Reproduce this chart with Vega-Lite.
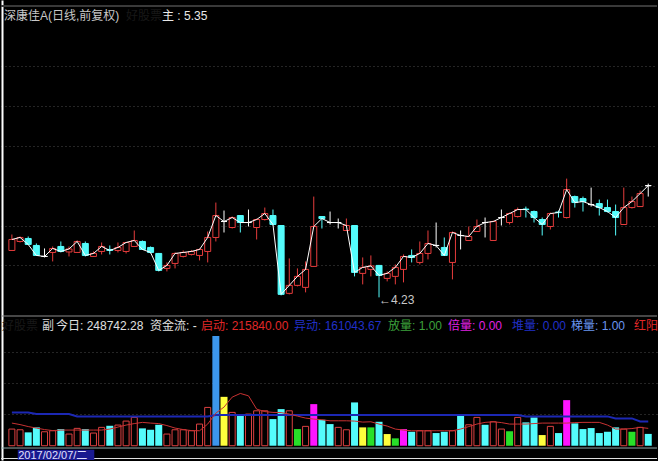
{
  "$schema": "https://vega.github.io/schema/vega-lite/v6.json",
  "width": 658,
  "height": 461,
  "autosize": {"type": "fit", "contains": "padding"},
  "padding": 0,
  "background": "#000000",
  "config": {"view": {"stroke": null}},
  "datasets": {
    "k": [
      {"i":0,"o":4.70,"h":4.86,"l":4.70,"c":4.81,"v":350700,"vt":"阳","ma5":476700,"ma60":701400},
      {"i":1,"o":4.79,"h":4.84,"l":4.78,"c":4.83,"v":336000,"vt":"阳","ma5":445200,"ma60":701400},
      {"i":2,"o":4.82,"h":4.84,"l":4.755,"c":4.76,"v":281400,"vt":"阴","ma5":403200,"ma60":701400},
      {"i":3,"o":4.75,"h":4.77,"l":4.645,"c":4.65,"v":386400,"vt":"阴","ma5":371700,"ma60":665700},
      {"i":4,"o":4.64,"h":4.72,"l":4.63,"c":4.64,"v":294000,"vt":"阳","ma5":340200,"ma60":665700},
      {"i":5,"o":4.68,"h":4.74,"l":4.59,"c":4.72,"v":315000,"vt":"阳","ma5":319200,"ma60":665700},
      {"i":6,"o":4.74,"h":4.79,"l":4.68,"c":4.69,"v":350700,"vt":"阴","ma5":329700,"ma60":665700},
      {"i":7,"o":4.685,"h":4.74,"l":4.64,"c":4.715,"v":245700,"vt":"阳","ma5":329700,"ma60":665700},
      {"i":8,"o":4.68,"h":4.80,"l":4.68,"c":4.79,"v":365400,"vt":"阳","ma5":329700,"ma60":617400},
      {"i":9,"o":4.77,"h":4.79,"l":4.64,"c":4.65,"v":350700,"vt":"阴","ma5":329700,"ma60":617400},
      {"i":10,"o":4.64,"h":4.69,"l":4.635,"c":4.67,"v":266700,"vt":"阳","ma5":329700,"ma60":617400},
      {"i":11,"o":4.69,"h":4.78,"l":4.66,"c":4.74,"v":386400,"vt":"阳","ma5":329700,"ma60":617400},
      {"i":12,"o":4.71,"h":4.75,"l":4.66,"c":4.70,"v":420000,"vt":"阴","ma5":350700,"ma60":617400},
      {"i":13,"o":4.70,"h":4.78,"l":4.68,"c":4.73,"v":434700,"vt":"阳","ma5":392700,"ma60":617400},
      {"i":14,"o":4.69,"h":4.78,"l":4.67,"c":4.78,"v":518700,"vt":"阳","ma5":434700,"ma60":617400},
      {"i":15,"o":4.74,"h":4.90,"l":4.74,"c":4.80,"v":596400,"vt":"阳","ma5":466200,"ma60":617400},
      {"i":16,"o":4.79,"h":4.80,"l":4.705,"c":4.71,"v":365400,"vt":"阴","ma5":491400,"ma60":617400},
      {"i":17,"o":4.73,"h":4.74,"l":4.67,"c":4.68,"v":336000,"vt":"阴","ma5":476700,"ma60":617400},
      {"i":18,"o":4.67,"h":4.675,"l":4.49,"c":4.50,"v":441000,"vt":"阴","ma5":466200,"ma60":617400},
      {"i":19,"o":4.52,"h":4.58,"l":4.49,"c":4.55,"v":245700,"vt":"阳","ma5":424200,"ma60":617400},
      {"i":20,"o":4.57,"h":4.68,"l":4.52,"c":4.67,"v":336000,"vt":"阳","ma5":371700,"ma60":617400},
      {"i":21,"o":4.64,"h":4.70,"l":4.63,"c":4.68,"v":336000,"vt":"阳","ma5":340200,"ma60":617400},
      {"i":22,"o":4.66,"h":4.705,"l":4.65,"c":4.69,"v":315000,"vt":"阳","ma5":319200,"ma60":617400},
      {"i":23,"o":4.65,"h":4.72,"l":4.60,"c":4.71,"v":455700,"vt":"阳","ma5":315000,"ma60":617400},
      {"i":24,"o":4.69,"h":4.89,"l":4.58,"c":4.83,"v":806400,"vt":"阳","ma5":455700,"ma60":617400},
      {"i":25,"o":4.83,"h":5.18,"l":4.79,"c":5.05,"v":2310000,"vt":"启动","ma5":686700,"ma60":644700},
      {"i":26,"o":4.99,"h":5.10,"l":4.88,"c":4.99,"v":1029000,"vt":"异动","ma5":812700,"ma60":644700},
      {"i":27,"o":4.93,"h":5.04,"l":4.92,"c":5.03,"v":701400,"vt":"阳","ma5":1022700,"ma60":644700},
      {"i":28,"o":5.05,"h":5.055,"l":4.88,"c":4.98,"v":630000,"vt":"阴","ma5":1100400,"ma60":644700},
      {"i":29,"o":4.98,"h":5.11,"l":4.94,"c":4.98,"v":665700,"vt":"阳","ma5":1050000,"ma60":644700},
      {"i":30,"o":4.93,"h":5.02,"l":4.81,"c":5.01,"v":735000,"vt":"阳","ma5":770700,"ma60":644700},
      {"i":31,"o":5.01,"h":5.13,"l":5.00,"c":5.07,"v":735000,"vt":"阳","ma5":718200,"ma60":644700},
      {"i":32,"o":5.05,"h":5.11,"l":4.95,"c":4.96,"v":560700,"vt":"阴","ma5":701400,"ma60":644700},
      {"i":33,"o":4.95,"h":4.955,"l":4.25,"c":4.26,"v":770700,"vt":"阴","ma5":697200,"ma60":644700},
      {"i":34,"o":4.27,"h":4.62,"l":4.26,"c":4.35,"v":735000,"vt":"阳","ma5":665700,"ma60":644700},
      {"i":35,"o":4.35,"h":4.52,"l":4.34,"c":4.44,"v":350700,"vt":"放量","ma5":623700,"ma60":644700},
      {"i":36,"o":4.33,"h":4.59,"l":4.28,"c":4.51,"v":407400,"vt":"阳","ma5":581700,"ma60":644700},
      {"i":37,"o":4.54,"h":5.24,"l":4.54,"c":4.94,"v":875700,"vt":"倍量","ma5":560700,"ma60":644700},
      {"i":38,"o":5.04,"h":5.04,"l":4.92,"c":5.02,"v":546000,"vt":"阴","ma5":546000,"ma60":644700},
      {"i":39,"o":4.98,"h":5.09,"l":4.96,"c":4.98,"v":455700,"vt":"阴","ma5":525000,"ma60":644700},
      {"i":40,"o":4.98,"h":5.02,"l":4.92,"c":4.98,"v":386400,"vt":"阳","ma5":525000,"ma60":644700},
      {"i":41,"o":4.90,"h":5.02,"l":4.895,"c":4.95,"v":336000,"vt":"阳","ma5":525000,"ma60":644700},
      {"i":42,"o":4.95,"h":4.955,"l":4.44,"c":4.48,"v":911400,"vt":"阴","ma5":518700,"ma60":644700},
      {"i":43,"o":4.47,"h":4.63,"l":4.36,"c":4.53,"v":386400,"vt":"异动","ma5":497700,"ma60":644700},
      {"i":44,"o":4.51,"h":4.65,"l":4.44,"c":4.545,"v":386400,"vt":"放量","ma5":504000,"ma60":644700},
      {"i":45,"o":4.55,"h":4.555,"l":4.23,"c":4.45,"v":504000,"vt":"阴","ma5":455700,"ma60":644700},
      {"i":46,"o":4.42,"h":4.49,"l":4.39,"c":4.47,"v":245700,"vt":"异动","ma5":413700,"ma60":644700},
      {"i":47,"o":4.44,"h":4.56,"l":4.36,"c":4.53,"v":155400,"vt":"放量","ma5":350700,"ma60":644700},
      {"i":48,"o":4.51,"h":4.66,"l":4.38,"c":4.64,"v":350700,"vt":"倍量","ma5":329700,"ma60":644700},
      {"i":49,"o":4.65,"h":4.71,"l":4.58,"c":4.63,"v":294000,"vt":"阴","ma5":315000,"ma60":644700},
      {"i":50,"o":4.58,"h":4.79,"l":4.56,"c":4.67,"v":315000,"vt":"阳","ma5":315000,"ma60":644700},
      {"i":51,"o":4.67,"h":4.90,"l":4.61,"c":4.77,"v":315000,"vt":"阳","ma5":315000,"ma60":644700},
      {"i":52,"o":4.75,"h":4.98,"l":4.73,"c":4.75,"v":266700,"vt":"阴","ma5":315000,"ma60":644700},
      {"i":53,"o":4.73,"h":4.83,"l":4.645,"c":4.65,"v":294000,"vt":"阴","ma5":315000,"ma60":644700},
      {"i":54,"o":4.58,"h":4.89,"l":4.41,"c":4.88,"v":315000,"vt":"阳","ma5":315000,"ma60":644700},
      {"i":55,"o":4.85,"h":4.90,"l":4.71,"c":4.85,"v":630000,"vt":"阴","ma5":350700,"ma60":644700},
      {"i":56,"o":4.80,"h":4.94,"l":4.80,"c":4.84,"v":441000,"vt":"阳","ma5":403200,"ma60":644700},
      {"i":57,"o":4.89,"h":5.01,"l":4.887,"c":4.94,"v":596400,"vt":"阳","ma5":455700,"ma60":644700},
      {"i":58,"o":4.98,"h":5.03,"l":4.83,"c":4.98,"v":441000,"vt":"阴","ma5":491400,"ma60":644700},
      {"i":59,"o":4.80,"h":5.00,"l":4.80,"c":4.99,"v":504000,"vt":"阳","ma5":504000,"ma60":644700},
      {"i":60,"o":5.03,"h":5.11,"l":4.95,"c":5.03,"v":350700,"vt":"阳","ma5":487200,"ma60":644700},
      {"i":61,"o":4.98,"h":5.08,"l":4.96,"c":5.07,"v":302400,"vt":"放量","ma5":455700,"ma60":644700},
      {"i":62,"o":5.04,"h":5.13,"l":5.03,"c":5.11,"v":596400,"vt":"阳","ma5":455700,"ma60":644700},
      {"i":63,"o":5.115,"h":5.14,"l":5.03,"c":5.11,"v":491400,"vt":"阴","ma5":455700,"ma60":617400},
      {"i":64,"o":5.09,"h":5.10,"l":4.98,"c":5.03,"v":596400,"vt":"阴","ma5":466200,"ma60":617400},
      {"i":65,"o":5.01,"h":5.03,"l":4.85,"c":4.96,"v":224700,"vt":"异动","ma5":476700,"ma60":617400},
      {"i":66,"o":4.94,"h":5.08,"l":4.91,"c":5.07,"v":407400,"vt":"阳","ma5":476700,"ma60":617400},
      {"i":67,"o":5.085,"h":5.10,"l":5.03,"c":5.08,"v":266700,"vt":"阴","ma5":476700,"ma60":617400},
      {"i":68,"o":5.03,"h":5.42,"l":5.02,"c":5.31,"v":959700,"vt":"倍量","ma5":476700,"ma60":617400},
      {"i":69,"o":5.24,"h":5.25,"l":5.13,"c":5.18,"v":470400,"vt":"阴","ma5":487200,"ma60":617400},
      {"i":70,"o":5.22,"h":5.24,"l":5.09,"c":5.19,"v":350700,"vt":"阴","ma5":491400,"ma60":617400},
      {"i":71,"o":5.16,"h":5.33,"l":5.14,"c":5.16,"v":371700,"vt":"阴","ma5":491400,"ma60":617400},
      {"i":72,"o":5.17,"h":5.21,"l":5.05,"c":5.13,"v":266700,"vt":"阴","ma5":491400,"ma60":617400},
      {"i":73,"o":5.13,"h":5.21,"l":5.08,"c":5.09,"v":294000,"vt":"阴","ma5":434700,"ma60":617400},
      {"i":74,"o":5.09,"h":5.16,"l":4.85,"c":5.03,"v":386400,"vt":"阴","ma5":350700,"ma60":575400},
      {"i":75,"o":4.96,"h":5.33,"l":4.955,"c":5.13,"v":350700,"vt":"阳","ma5":350700,"ma60":575400},
      {"i":76,"o":5.13,"h":5.24,"l":5.12,"c":5.19,"v":294000,"vt":"放量","ma5":361200,"ma60":575400},
      {"i":77,"o":5.14,"h":5.30,"l":5.14,"c":5.27,"v":386400,"vt":"阳","ma5":386400,"ma60":512400},
      {"i":78,"o":5.35,"h":5.37,"l":5.24,"c":5.35,"v":248742,"vt":"阴","ma5":365400,"ma60":512400}
    ],
    "low": [{"i": 45, "p": 4.23, "t": "←4.23"}],
    "one": [{}]
  },
  "layer": [
    {
      "data": {"name": "k"},
      "transform": [{"calculate": "datum.c > datum.o ? 'up' : (datum.c < datum.o ? 'down' : 'flat')", "as": "dir"}],
      "layer": [
        {
          "mark": {"type": "rule", "color": "#3c3c3c", "strokeWidth": 1},
          "encoding": {"y": {"datum": 7.15, "type": "quantitative", "scale": {"domain": [2.60, 7.21], "nice": false, "zero": false},
            "axis": {"orient": "left", "values": [4.55, 4.95, 5.35, 5.75, 6.15, 6.55], "grid": true, "gridColor": "#4a4a4a", "gridDash": [1, 3], "gridWidth": 1, "labels": false, "ticks": false, "domain": true, "domainColor": "#ffffff", "domainWidth": 2, "offset": -1, "title": null}}}
        },
        {
          "mark": {"type": "rule", "strokeWidth": 1},
          "encoding": {
            "x": {"field": "i", "type": "quantitative", "scale": {"domain": [-0.722, 78.46], "nice": false, "zero": false}, "axis": null},
            "y": {"field": "l", "type": "quantitative"},
            "y2": {"field": "h"},
            "color": {"field": "dir", "type": "nominal", "scale": {"domain": ["up", "down", "flat"], "range": ["#e63c3c", "#54fcfc", "#ffffff"]}, "legend": null}
          }
        },
        {
          "mark": {"type": "bar", "size": 6, "strokeWidth": 1},
          "encoding": {
            "x": {"field": "i", "type": "quantitative"},
            "y": {"field": "o", "type": "quantitative"},
            "y2": {"field": "c"},
            "fill": {"field": "dir", "type": "nominal", "scale": {"domain": ["up", "down", "flat"], "range": ["#000000", "#54fcfc", "#ffffff"]}, "legend": null},
            "stroke": {"field": "dir", "type": "nominal", "scale": {"domain": ["up", "down", "flat"], "range": ["#e63c3c", "#54fcfc", "#ffffff"]}, "legend": null}
          }
        },
        {
          "mark": {"type": "line", "color": "#ffffff", "strokeWidth": 1},
          "encoding": {
            "x": {"field": "i", "type": "quantitative"},
            "y": {"field": "c", "type": "quantitative"}
          }
        },
        {
          "data": {"name": "low"},
          "mark": {"type": "text", "align": "left", "baseline": "middle", "dy": 3, "fontSize": 12, "font": "Liberation Sans, Noto Sans CJK SC", "color": "#c8c8c8"},
          "encoding": {
            "x": {"field": "i", "type": "quantitative"},
            "y": {"field": "p", "type": "quantitative"},
            "text": {"field": "t"}
          }
        }
      ]
    },
    {
      "data": {"name": "k"},
      "layer": [
        {
          "transform": [{"filter": "datum.vt !== '阳'"}],
          "mark": {"type": "bar", "size": 7},
          "encoding": {
            "x": {"field": "i", "type": "quantitative", "scale": {"domain": [-0.722, 78.46], "nice": false, "zero": false}, "axis": null},
            "y": {"field": "v", "type": "quantitative", "scale": {"domain": [-300300, 9380700], "nice": false, "zero": false},
              "axis": {"orient": "right", "values": [676200, 1327200, 1967700], "grid": true, "gridColor": "#4a4a4a", "gridDash": [1, 3], "gridWidth": 1, "labels": false, "ticks": false, "domain": false, "title": null}},
            "y2": {"datum": 0},
            "fill": {"field": "vt", "type": "nominal", "scale": {"domain": ["阴", "启动", "异动", "放量", "倍量"], "range": ["#54fcfc", "#3c96ec", "#ffff3c", "#28e028", "#ff14ff"]}, "legend": null}
          }
        },
        {
          "transform": [{"filter": "datum.vt === '阳'"}],
          "mark": {"type": "bar", "size": 6, "fill": "#000000", "stroke": "#dc4040", "strokeWidth": 1},
          "encoding": {
            "x": {"field": "i", "type": "quantitative"},
            "y": {"field": "v", "type": "quantitative"},
            "y2": {"datum": 0}
          }
        },
        {
          "mark": {"type": "line", "color": "#1c28b4", "strokeWidth": 2},
          "encoding": {
            "x": {"field": "i", "type": "quantitative"},
            "y": {"field": "ma60", "type": "quantitative"}
          }
        },
        {
          "mark": {"type": "line", "color": "#c83232", "strokeWidth": 1},
          "encoding": {
            "x": {"field": "i", "type": "quantitative"},
            "y": {"field": "ma5", "type": "quantitative"}
          }
        },
        {
          "data": {"name": "one"},
          "mark": {"type": "rule", "color": "#8c8c8c", "strokeWidth": 1},
          "encoding": {"y": {"datum": 2730000, "type": "quantitative"}}
        },
        {
          "data": {"name": "one"},
          "mark": {"type": "rule", "color": "#90a8a8", "strokeWidth": 1},
          "encoding": {"y": {"datum": -48300, "type": "quantitative"}}
        },
        {
          "data": {"name": "one"},
          "mark": {"type": "rule", "color": "#e0e0e0", "strokeWidth": 1},
          "encoding": {"y": {"datum": -268800, "type": "quantitative"}}
        },
        {
          "data": {"name": "one"},
          "mark": {"type": "rect", "color": "#1a1a90"},
          "encoding": {
            "x": {"datum": 0.72, "type": "quantitative"},
            "x2": {"datum": 10.1},
            "y": {"datum": -84000, "type": "quantitative"},
            "y2": {"datum": -300300}
          }
        },
        {
          "data": {"name": "one"},
          "mark": {"type": "text", "align": "left", "baseline": "middle", "fontSize": 11, "font": "Liberation Sans, Noto Sans CJK SC", "color": "#e0e0ff"},
          "encoding": {
            "x": {"datum": 0.78, "type": "quantitative"},
            "y": {"datum": -216300, "type": "quantitative"},
            "text": {"value": "2017/02/07/二"}
          }
        }
      ]
    },
    {
      "data": {"name": "one"},
      "layer": [
        {"mark": {"type": "text", "align": "left", "baseline": "middle", "fontSize": 12, "font": "Liberation Sans, Noto Sans CJK SC", "color": "#c8c8c8"},
         "encoding": {"x": {"value": 3}, "y": {"value": 16}, "text": {"value": "深康佳A(日线,前复权)"}}},
        {"mark": {"type": "text", "align": "left", "baseline": "middle", "fontSize": 12, "font": "Liberation Sans, Noto Sans CJK SC", "color": "#181818"},
         "encoding": {"x": {"value": 125}, "y": {"value": 16}, "text": {"value": "好股票"}}},
        {"mark": {"type": "text", "align": "left", "baseline": "middle", "fontSize": 12, "font": "Liberation Sans, Noto Sans CJK SC", "color": "#e8e8e8"},
         "encoding": {"x": {"value": 161}, "y": {"value": 16}, "text": {"value": "主 : 5.35"}}},
        {"mark": {"type": "text", "align": "right", "baseline": "middle", "fontSize": 12, "font": "Liberation Sans, Noto Sans CJK SC", "color": "#181818"},
         "encoding": {"x": {"value": 37}, "y": {"value": 326}, "text": {"value": "好股票"}}},
        {"mark": {"type": "text", "align": "left", "baseline": "middle", "fontSize": 12, "font": "Liberation Sans, Noto Sans CJK SC", "color": "#d0d0d0"},
         "encoding": {"x": {"value": 41}, "y": {"value": 326}, "text": {"value": "副"}}},
        {"mark": {"type": "text", "align": "left", "baseline": "middle", "fontSize": 12, "font": "Liberation Sans, Noto Sans CJK SC", "color": "#e0e0e0"},
         "encoding": {"x": {"value": 55}, "y": {"value": 326}, "text": {"value": "今日: 248742.28"}}},
        {"mark": {"type": "text", "align": "left", "baseline": "middle", "fontSize": 12, "font": "Liberation Sans, Noto Sans CJK SC", "color": "#e0e0e0"},
         "encoding": {"x": {"value": 149}, "y": {"value": 326}, "text": {"value": "资金流: -"}}},
        {"mark": {"type": "text", "align": "left", "baseline": "middle", "fontSize": 12, "font": "Liberation Sans, Noto Sans CJK SC", "color": "#e02828"},
         "encoding": {"x": {"value": 200}, "y": {"value": 326}, "text": {"value": "启动: 215840.00"}}},
        {"mark": {"type": "text", "align": "left", "baseline": "middle", "fontSize": 12, "font": "Liberation Sans, Noto Sans CJK SC", "color": "#2030c8"},
         "encoding": {"x": {"value": 293}, "y": {"value": 326}, "text": {"value": "异动: 161043.67"}}},
        {"mark": {"type": "text", "align": "left", "baseline": "middle", "fontSize": 12, "font": "Liberation Sans, Noto Sans CJK SC", "color": "#3ca03c"},
         "encoding": {"x": {"value": 387}, "y": {"value": 326}, "text": {"value": "放量: 1.00"}}},
        {"mark": {"type": "text", "align": "left", "baseline": "middle", "fontSize": 12, "font": "Liberation Sans, Noto Sans CJK SC", "color": "#e020e0"},
         "encoding": {"x": {"value": 447}, "y": {"value": 326}, "text": {"value": "倍量: 0.00"}}},
        {"mark": {"type": "text", "align": "left", "baseline": "middle", "fontSize": 12, "font": "Liberation Sans, Noto Sans CJK SC", "color": "#2030c8"},
         "encoding": {"x": {"value": 511}, "y": {"value": 326}, "text": {"value": "堆量: 0.00"}}},
        {"mark": {"type": "text", "align": "left", "baseline": "middle", "fontSize": 12, "font": "Liberation Sans, Noto Sans CJK SC", "color": "#6a96f0"},
         "encoding": {"x": {"value": 570}, "y": {"value": 326}, "text": {"value": "梯量: 1.00"}}},
        {"mark": {"type": "text", "align": "left", "baseline": "middle", "fontSize": 12, "font": "Liberation Sans, Noto Sans CJK SC", "color": "#e02828"},
         "encoding": {"x": {"value": 633}, "y": {"value": 326}, "text": {"value": "红阳"}}}
      ]
    }
  ],
  "resolve": {"scale": {"y": "independent", "fill": "independent", "stroke": "independent", "color": "independent"}}
}
